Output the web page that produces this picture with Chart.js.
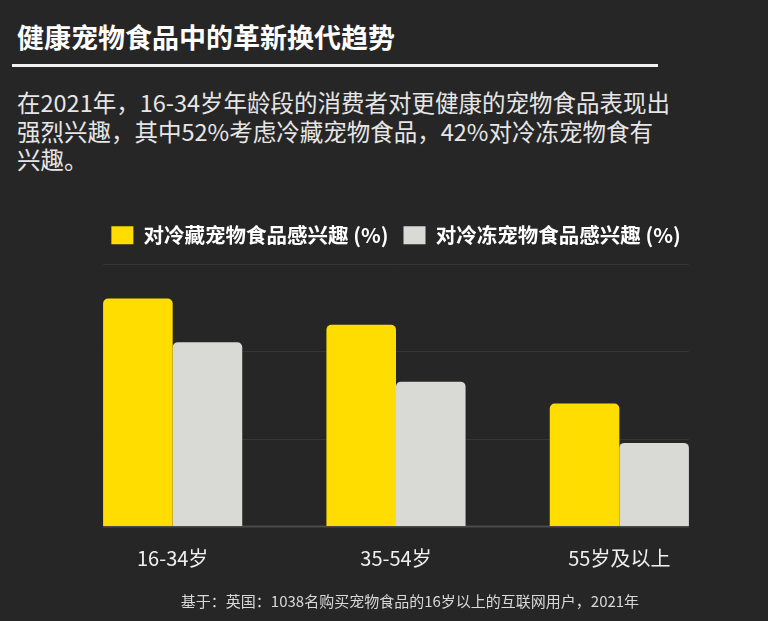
<!DOCTYPE html>
<html>
<head>
<meta charset="utf-8">
<script src="https://cdn.jsdelivr.net/npm/chart.js@4.4.0/dist/chart.umd.min.js"></script>
<style>
  html, body { margin: 0; padding: 0; background: #262626; }
  body { width: 768px; height: 621px; position: relative; overflow: hidden; font-family: "Noto Sans CJK SC", sans-serif; }
  #title { position: absolute; left: 17px; top: 19px; color: #fff; font-size: 27px; font-weight: bold; line-height: 36px; }
  #rule { position: absolute; left: 12px; top: 64px; width: 646px; height: 3px; background: #f2f2f2; }
  #sub { position: absolute; left: 17px; top: 88px; color: #e6e6e6; font-size: 23.5px; line-height: 28.5px; }
  #wrap { position: absolute; left: 0; top: 195px; width: 768px; height: 404px; }
  #foot { position: absolute; left: 110px; width: 600px; top: 591px; text-align: center; color: #d8d8d8; font-size: 15px; line-height: 20px; }
</style>
</head>
<body>
<div id="title">健康宠物食品中的革新换代趋势</div>
<div id="rule"></div>
<div id="sub">在2021年，16-34岁年龄段的消费者对更健康的宠物食品表现出<br>强烈兴趣，其中52%考虑冷藏宠物食品，42%对冷冻宠物食有<br>兴趣。</div>
<div id="wrap"><canvas id="petChart"></canvas></div>
<div id="foot">基于：英国：1038名购买宠物食品的16岁以上的互联网用户，2021年</div>
<script>
var ageGroups = ['16-34岁', '35-54岁', '55岁及以上'];
var chilledValues = [52, 46, 28];
var frozenValues = [42, 33, 19];
var gridValues = [0, 20, 40, 60];

// grid lines only span the bars, not the whole chart area
var gridPlugin = {
  id: 'shortGrid',
  beforeDatasetsDraw: (chart) => {
    const ctx = chart.ctx;
    const y = chart.scales.y;
    let left = Infinity, right = -Infinity;
    chart.getSortedVisibleDatasetMetas().forEach(m => {
      m.data.forEach(b => {
        left = Math.min(left, b.x - b.width / 2);
        right = Math.max(right, b.x + b.width / 2);
      });
    });
    ctx.save();
    gridValues.forEach(v => {
      const py = Math.round(y.getPixelForValue(v)) + 0.5;
      ctx.strokeStyle = v === 0 ? '#4a4a4a' : '#363636';
      ctx.lineWidth = v === 0 ? 2 : 1;
      ctx.beginPath();
      ctx.moveTo(left, py);
      ctx.lineTo(right, py);
      ctx.stroke();
    });
    ctx.restore();
  }
};

// a bit of room under the legend
var legendGap = {
  id: 'legendGap',
  beforeInit: (chart) => {
    const fit = chart.legend.fit;
    chart.legend.fit = function () {
      fit.bind(chart.legend)();
      this.height += 8;
    };
  }
};

var chart = new Chart(document.getElementById('petChart').getContext('2d'), {
  type: 'bar',
  data: {
    labels: ageGroups,
    datasets: [{
      label: '对冷藏宠物食品感兴趣 (%)',
      data: chilledValues,
      backgroundColor: '#FFDD00',
      borderRadius: { topLeft: 5, topRight: 5 },
      borderSkipped: 'bottom'
    }, {
      label: '对冷冻宠物食品感兴趣 (%)',
      data: frozenValues,
      backgroundColor: '#D9D9D6',
      borderRadius: { topLeft: 5, topRight: 5 },
      borderSkipped: 'bottom'
    }]
  },
  plugins: [gridPlugin, legendGap],
  options: {
    responsive: true,
    maintainAspectRatio: false,
    animation: false,
    categoryPercentage: 0.623,
    barPercentage: 1,
    layout: {
      padding: { left: 61, right: 37, top: 15, bottom: 17 }
    },
    plugins: {
      legend: {
        display: true,
        position: 'top',
        fullSize: false,
        labels: {
          color: '#ffffff',
          boxWidth: 22,
          boxHeight: 18,
          padding: 15,
          font: { family: '"Noto Sans CJK SC", sans-serif', size: 20.5, weight: 'bold' }
        }
      },
      tooltip: { enabled: false }
    },
    scales: {
      x: {
        grid: { display: false },
        border: { display: false },
        ticks: {
          color: '#f0f0f0',
          padding: 12,
          font: { family: '"Noto Sans CJK SC", sans-serif', size: 20 }
        }
      },
      y: {
        display: false,
        min: 0,
        max: 60
      }
    }
  }
});
</script>
</body>
</html>
